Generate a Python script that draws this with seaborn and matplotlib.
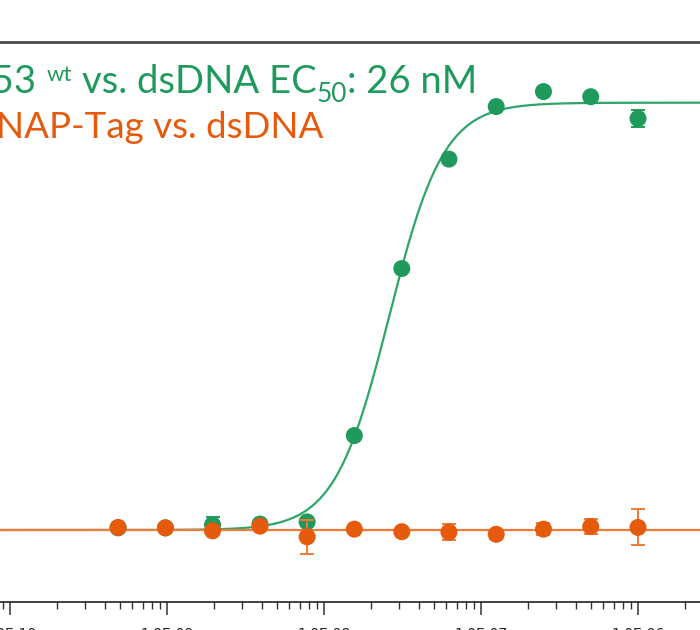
import numpy as np
import pandas as pd
import matplotlib
matplotlib.use("Agg")
import matplotlib.pyplot as plt
from matplotlib.ticker import LogLocator, FuncFormatter, NullFormatter
import seaborn as sns

# Titration series: protein concentration (M)
conc = [4.88e-10, 9.77e-10, 1.95e-9, 3.91e-9, 7.81e-9, 1.56e-8,
        3.13e-8, 6.25e-8, 1.25e-7, 2.5e-7, 5.0e-7, 1.0e-6]

# Normalised binding signal (%) and standard deviations
p53_signal = [0.5, 0.5, 1.2, 1.4, 1.9, 22.1, 61.2, 86.8, 99.1, 102.6, 101.4, 96.3]
p53_sd = [0.0, 0.0, 1.8, 0.4, 0.0, 0.0, 0.0, 1.0, 0.0, 0.0, 0.0, 2.1]
snap_signal = [0.6, 0.5, -0.2, 0.9, -1.6, 0.2, -0.4, -0.5, -1.0, 0.2, 0.8, 0.6]
snap_sd = [0.0, 0.0, 0.5, 0.0, 3.9, 0.0, 0.0, 1.95, 1.0, 1.45, 1.8, 4.2]

# Dose-response fit parameters
ec50 = 26e-9
hill = 2.5
bottom, top = 0.0, 100.0
snap_level = 0.0

GREEN = "#1f9a5c"
GREEN_LINE = "#2fa56a"
ORANGE = "#e65a0c"
ORANGE_LINE = "#f07a3a"
TEXT_FONT = "Lato"

sns.set_theme(style="white")
plt.rcParams["font.family"] = ["DejaVu Sans"]

W, H = 700, 630
fig = plt.figure(figsize=(W / 100, H / 100), dpi=100)
ax_bottom_px, ax_top_px = 602, 41.7
ax = fig.add_axes([0, (H - ax_bottom_px) / H, 1, (ax_bottom_px - ax_top_px) / H])

pts = pd.DataFrame({
    "conc": conc * 2,
    "signal": p53_signal + snap_signal,
    "sd": p53_sd + snap_sd,
    "construct": ["p53 wt"] * len(conc) + ["SNAP-Tag"] * len(conc),
})

xs = np.logspace(-10.1, -5.4, 400)
fit = pd.DataFrame({
    "conc": np.concatenate([xs, xs]),
    "signal": np.concatenate([
        bottom + (top - bottom) / (1 + (ec50 / xs) ** hill),
        np.full_like(xs, snap_level),
    ]),
    "construct": ["p53 wt"] * len(xs) + ["SNAP-Tag"] * len(xs),
})

# p53 wt: fit curve, error bars, points
sns.lineplot(data=fit[fit.construct == "p53 wt"], x="conc", y="signal",
             color=GREEN_LINE, lw=1.6, ax=ax, legend=False, zorder=2)
g = pts[pts.construct == "p53 wt"]
ax.errorbar(g.conc, g.signal, yerr=g.sd, fmt="none", ecolor=GREEN,
            elinewidth=1.4, capsize=5, capthick=1.4, zorder=3)
sns.scatterplot(data=g, x="conc", y="signal", color=GREEN, s=150,
                edgecolor="none", ax=ax, legend=False, zorder=4)

# SNAP-Tag control: flat fit, error bars, points
sns.lineplot(data=fit[fit.construct == "SNAP-Tag"], x="conc", y="signal",
             color=ORANGE_LINE, lw=1.6, ax=ax, legend=False, zorder=5)
o = pts[pts.construct == "SNAP-Tag"]
ax.errorbar(o.conc, o.signal, yerr=o.sd, fmt="none", ecolor=ORANGE_LINE,
            elinewidth=1.4, capsize=5, capthick=1.4, zorder=6)
sns.scatterplot(data=o, x="conc", y="signal", color=ORANGE, s=150,
                edgecolor="none", ax=ax, legend=False, zorder=7)

# Axes: log concentration, 157 px per decade
ax.set_xscale("log")
px_per_dec = 157.0
x_1e10 = 10.0
ax.set_xlim(10 ** (-10 - x_1e10 / px_per_dec),
            10 ** (-10 + (W - x_1e10) / px_per_dec))
scale = (530 - 102.7) / 100.0
ax.set_ylim(-(ax_bottom_px - 530) / scale, (530 - ax_top_px) / scale)

ax.xaxis.set_major_locator(LogLocator(base=10, numticks=20))
ax.xaxis.set_minor_locator(LogLocator(base=10, subs=np.arange(2, 10), numticks=100))
ax.xaxis.set_major_formatter(FuncFormatter(lambda v, p: f"1.0E{int(round(np.log10(v))):03d}"))
ax.xaxis.set_minor_formatter(NullFormatter())
ax.tick_params(axis="x", which="major", direction="out", length=9, width=1.1,
               color="#333333", labelsize=10, pad=9, labelcolor="#222222", bottom=True)
ax.tick_params(axis="x", which="minor", direction="out", length=5, width=1.0,
               color="#333333", bottom=True)
ax.set_yticks([])
ax.set_xlabel("")
ax.set_ylabel("")

for side in ("left", "right"):
    ax.spines[side].set_visible(False)
ax.spines["bottom"].set_color("#222222")
ax.spines["bottom"].set_linewidth(1.2)
ax.spines["top"].set_color("#4a4a4a")
ax.spines["top"].set_linewidth(2.0)


# Labels built from runs of differently sized text (superscript / subscript)
renderer = fig.canvas.get_renderer()


def text_width(s, size):
    t = fig.text(0, 0, s, fontsize=size, family=TEXT_FONT)
    w = t.get_window_extent(renderer).width
    t.remove()
    return w


def draw_runs(runs, x_right, y_base, color, main):
    """runs: list of (text, fontsize, baseline shift in px); None = word space."""
    space = text_width("a a", main) - text_width("aa", main)
    widths = [space if r is None else text_width(r[0], r[1]) for r in runs]
    x = x_right - sum(widths)
    for r, w in zip(runs, widths):
        if r is not None:
            s, size, dy = r
            fig.text(x / W, (H - y_base + dy) / H, s, fontsize=size,
                     family=TEXT_FONT, color=color, ha="left", va="baseline")
        x += w


draw_runs([("p53", 27.5, 0), None, ("wt", 16, 12), None,
           ("vs. dsDNA EC", 27.5, 0), ("50", 19, -9), (": 26 nM", 27.5, 0)],
          477, 92.7, GREEN, 27.5)
draw_runs([("SNAP-Tag vs. dsDNA", 26.5, 0)], 323, 137.5, ORANGE, 26.5)

fig.savefig("out.png", dpi=100)
